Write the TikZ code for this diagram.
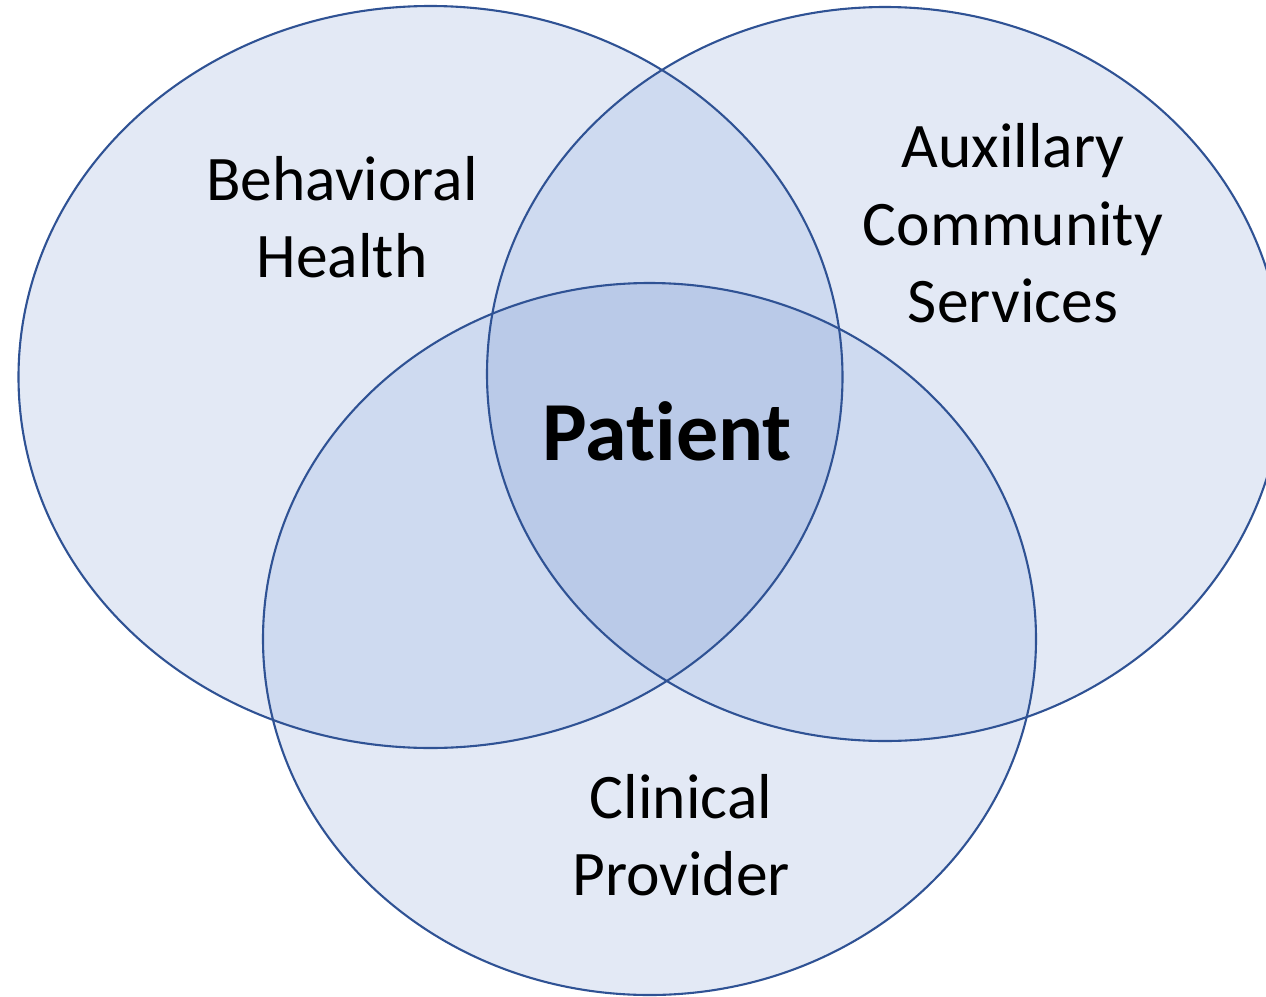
\documentclass[tikz,border=0pt]{standalone}
\usepackage{fontspec}
\setmainfont{Carlito}[Ligatures=NoCommon]
\definecolor{ringfill}{RGB}{227,233,245}
\definecolor{pairfill}{RGB}{206,218,240}
\definecolor{corefill}{RGB}{186,202,232}
\definecolor{ringline}{RGB}{47,82,148}
\begin{document}
\begin{tikzpicture}[x=1pt,y=-1pt,
  label/.style={font=\fontsize{63.5}{76}\selectfont,anchor=base,inner sep=0pt},
  core/.style={font=\fontsize{84}{100}\selectfont\bfseries,anchor=base,inner sep=0pt},
  ring/.style={draw=ringline,line width=2.1pt}]
\useasboundingbox (0,0) rectangle (1266,996);
% the three sets
\def\setA{(430.5,377) ellipse [x radius=412, y radius=371]}
\def\setB{(885,374) ellipse [x radius=398, y radius=367]}
\def\setC{(649.5,639) ellipse [x radius=386.5, y radius=356]}
% single regions
\fill[ringfill] \setA;
\fill[ringfill] \setB;
\fill[ringfill] \setC;
% pairwise overlaps
\begin{scope}\clip \setA; \fill[pairfill] \setB; \fill[pairfill] \setC;\end{scope}
\begin{scope}\clip \setB; \fill[pairfill] \setC;\end{scope}
% triple overlap
\begin{scope}\clip \setA; \clip \setB; \fill[corefill] \setC;\end{scope}
% outlines
\draw[ring] \setA;
\draw[ring] \setB;
\draw[ring] \setC;
% labels
\node[label] (bh1) at (342,200) {Behavioral};
\node[label] (bh2) at (342,277) {Health};
\node[label] (ac1) at (1013,167) {Auxillary};
\node[label] (ac2) at (1013,245) {Community};
\node[label] (ac3) at (1013,322) {Services};
\node[label] (cp1) at (681,818) {Clinical};
\node[label] (cp2) at (681,895) {Provider};
\node[core] (pt) at (667,460) {Patient};
\end{tikzpicture}
\end{document}
